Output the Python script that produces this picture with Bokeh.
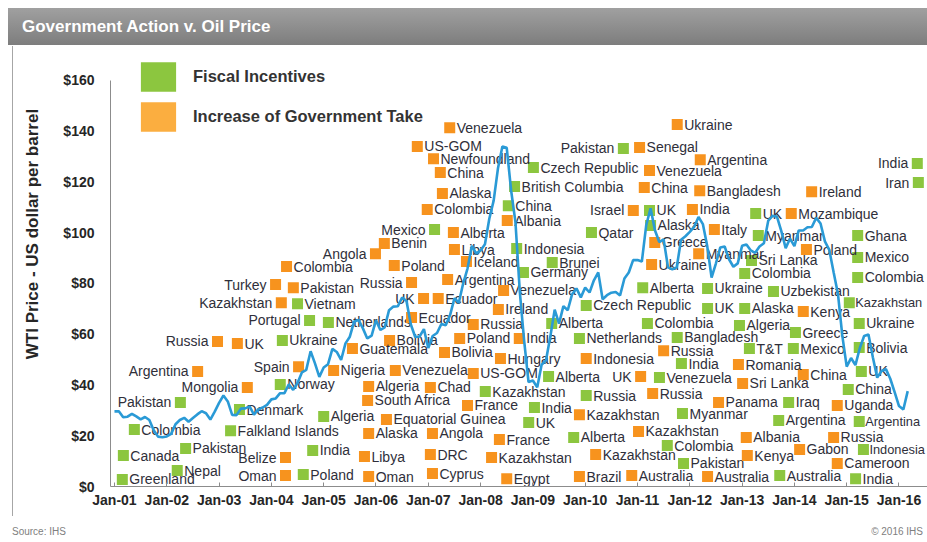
from bokeh.plotting import figure
from bokeh.models import (Div, FixedTicker, Legend, LegendItem, ColumnDataSource,
                          Range1d)
from bokeh.layouts import column
from bokeh.embed import file_html
from bokeh.resources import INLINE
from bokeh.core.properties import value

# ---------------- DATA ----------------
# WTI monthly average price (US$/bbl), Jan 2001 .. Mar 2016
wti_start_year = 2001
wti_price = [
    29.59, 29.61, 27.24, 27.49, 28.63, 27.60, 26.43, 27.37, 26.20, 22.17, 19.64, 19.39,
    19.72, 20.72, 24.53, 26.18, 27.04, 25.52, 26.97, 28.39, 29.66, 28.84, 26.35, 29.46,
    32.95, 35.83, 33.51, 28.17, 28.11, 30.66, 30.75, 31.57, 28.31, 30.34, 31.11, 32.13,
    34.31, 34.69, 36.74, 36.75, 40.28, 38.03, 40.78, 44.90, 45.94, 53.28, 48.47, 43.15,
    46.84, 48.15, 54.19, 52.98, 49.83, 56.35, 59.00, 64.99, 65.59, 62.26, 58.32, 59.41,
    65.49, 61.63, 62.69, 69.44, 70.84, 70.95, 74.41, 73.04, 63.80, 58.89, 59.08, 61.96,
    54.51, 59.28, 60.44, 63.98, 63.46, 67.49, 74.12, 72.36, 79.92, 85.80, 94.77, 91.69,
    92.97, 95.39, 105.45, 112.58, 125.40, 133.88, 133.37, 116.67, 104.11, 76.61, 57.31, 41.12,
    41.71, 39.09, 47.94, 49.65, 59.03, 69.64, 64.15, 71.05, 69.41, 75.72, 77.99, 74.47,
    78.33, 76.39, 81.20, 84.29, 73.74, 75.34, 76.32, 76.60, 75.24, 81.89, 84.25, 89.15,
    89.17, 88.58, 102.86, 109.53, 100.90, 96.26, 97.30, 86.33, 85.52, 86.32, 97.16, 98.56,
    100.27, 102.20, 106.16, 103.32, 94.66, 82.30, 87.90, 94.13, 94.51, 89.49, 86.53, 87.86,
    94.76, 95.31, 92.94, 92.02, 94.51, 95.77, 104.67, 106.57, 106.29, 100.54, 93.86, 97.63,
    94.62, 100.82, 100.80, 102.07, 102.18, 105.79, 103.59, 96.54, 93.21, 84.40, 75.79, 59.29,
    47.22, 50.58, 47.82, 54.45, 59.27, 59.82, 50.90, 42.87, 45.48, 46.22, 42.44, 37.19,
    31.68, 30.32, 37.55,
]

# Fiscal incentives: country, date (decimal year), price level
fi_country = [
    "Pakistan", "Colombia", "Canada", "Greenland", "Pakistan", "Nepal", "Denmark",
    "Falkland Islands", "Norway", "Poland", "India", "Algeria", "Vietnam", "Portugal",
    "Ukraine", "Mexico", "Indonesia", "Germany", "Netherlands", "Kazakhstan", "UK",
    "India", "India", "Alberta", "Venezuela", "Russia", "Myanmar", "Alberta",
    "Colombia", "Pakistan", "UK", "China", "Iraq", "Argentina", "Argentina",
    "Indonesia", "Australia", "India", "Myanmar", "Ghana", "Mexico", "Sri Lanka",
    "Colombia", "Colombia", "Uzbekistan", "Kazakhstan", "Alaska", "Ukraine", "Algeria",
    "Greece", "T&T", "Mexico", "Bolivia", "Qatar", "Brunei", "Alberta", "Ukraine",
    "Czech Republic", "UK", "Alberta", "Colombia", "Netherlands", "Bangladesh",
    "Pakistan", "Czech Republic", "British Columbia", "China", "UK", "Alaska",
    "India", "Iran", "UK",
]
fi_date = [
    2002.26, 2001.38, 2001.17, 2001.15, 2002.36, 2002.20, 2003.39,
    2003.22, 2004.17, 2004.61, 2004.79, 2005.00, 2004.50, 2004.73,
    2004.21, 2007.12, 2008.69, 2008.82, 2005.09, 2008.09, 2008.92,
    2009.03, 2011.84, 2009.30, 2011.42, 2010.02, 2011.86, 2009.78,
    2011.57, 2011.88, 2015.28, 2015.03, 2013.89, 2013.70, 2015.24,
    2015.32, 2013.72, 2015.17, 2013.31, 2015.21, 2015.21, 2013.18,
    2013.05, 2015.21, 2013.60, 2015.05, 2013.05, 2015.24, 2012.95,
    2014.02, 2013.14, 2013.98, 2015.24, 2010.12, 2009.37, 2011.10, 2012.34,
    2010.02, 2012.34, 2009.36, 2011.19, 2009.89, 2011.76,
    2010.73, 2009.01, 2008.65, 2008.53, 2011.23, 2011.25,
    2016.35, 2016.37, 2013.26,
]
fi_price = [
    33.1, 22.4, 12.2, 2.8, 15.0, 6.3, 30.3,
    22.0, 40.2, 4.7, 14.2, 27.6, 72.0, 65.4,
    57.5, 101.2, 93.7, 84.3, 64.6, 37.4, 25.2,
    31.1, 48.4, 43.3, 42.9, 35.8, 28.7, 19.3,
    16.1, 9.1, 45.3, 38.2, 33.1, 26.0, 25.6,
    14.6, 4.3, 3.1, 98.8, 98.8, 90.2, 89.0,
    83.9, 82.3, 76.8, 72.4, 70.1, 64.2, 63.4,
    60.6, 54.3, 54.3, 54.7, 100.0, 88.2, 78.3, 78.0,
    71.3, 70.1, 64.2, 64.2, 58.3, 58.7,
    133.1, 125.6, 118.1, 110.6, 108.7, 102.8,
    127.2, 119.7, 107.5,
]

# Increase of government take
gt_country = [
    "Argentina", "Mongolia", "Belize", "Oman", "Spain", "Colombia", "Turkey",
    "Pakistan", "Kazakhstan", "Russia", "UK", "Alberta", "Benin", "Angola", "Libya",
    "Poland", "Iceland", "Russia", "Argentina", "Venezuela", "UK", "Ecuador",
    "Ireland", "Ecuador", "Russia", "Bolivia", "Poland", "India", "Guatemala",
    "Bolivia", "Nigeria", "Venezuela", "Hungary", "US-GOM", "Algeria", "Chad",
    "South Africa", "France", "Equatorial Guinea", "Alaska", "Angola", "France",
    "Libya", "DRC", "Kazakhstan", "Oman", "Cyprus", "Egypt", "Indonesia", "UK",
    "Russia", "Kazakhstan", "Panama", "Kazakhstan", "Kazakhstan", "Brazil",
    "Australia", "Australia", "Romania", "Sri Lanka", "China", "Uganda", "Albania",
    "Russia", "Gabon", "Kenya", "Cameroon", "Poland", "Kenya", "Greece", "Myanmar",
    "Ukraine", "Russia", "Ukraine", "Senegal", "Argentina", "Venezuela", "China",
    "Bangladesh", "Albania", "Israel", "India", "Italy", "Ireland", "Mozambique",
    "Venezuela", "US-GOM", "Newfoundland", "China", "Alaska", "Colombia",
]
gt_date = [
    2002.59, 2003.54, 2004.27, 2004.27, 2004.52, 2004.29, 2004.08,
    2004.42, 2004.19, 2002.97, 2003.35, 2007.48, 2006.16, 2005.99, 2007.50,
    2006.35, 2007.73, 2006.68, 2007.37, 2008.44, 2006.91, 2007.19,
    2008.34, 2006.68, 2007.86, 2006.26, 2007.60, 2008.74, 2005.55,
    2007.31, 2005.19, 2006.37, 2008.38, 2007.86, 2005.86, 2007.04,
    2005.84, 2007.75, 2006.20, 2005.86, 2007.08, 2008.36,
    2005.78, 2007.04, 2008.21, 2005.86, 2007.08, 2008.50, 2010.02, 2011.06,
    2011.29, 2009.89, 2012.55, 2011.02, 2010.20, 2009.89,
    2010.89, 2012.34, 2012.93, 2013.01, 2014.17, 2014.82, 2013.08,
    2014.75, 2014.10, 2013.10, 2014.82, 2014.23, 2014.17, 2011.33, 2012.17,
    2011.27, 2011.50, 2011.76, 2011.04, 2012.20, 2011.23, 2011.13,
    2012.19, 2008.51, 2010.92, 2012.05, 2012.47, 2014.33, 2013.94,
    2007.41, 2006.79, 2007.10, 2007.23, 2007.27, 2006.98,
]
gt_price = [
    45.3, 39.0, 11.4, 4.3, 47.2, 86.6, 79.5,
    78.3, 72.4, 57.1, 56.3, 100.0, 95.7, 91.7, 93.3,
    87.0, 88.6, 80.3, 81.5, 77.2, 74.0, 74.0,
    69.7, 66.5, 63.8, 57.5, 58.3, 58.3, 54.3,
    52.8, 45.7, 45.7, 50.4, 44.5, 39.4, 39.0,
    33.9, 31.9, 26.4, 20.9, 20.9, 18.5,
    11.8, 12.6, 11.4, 3.9, 5.1, 3.1, 50.4, 43.3,
    36.6, 28.3, 33.1, 21.7, 12.6, 3.9,
    4.3, 3.9, 48.0, 40.6, 44.1, 31.9, 19.3,
    19.3, 14.6, 12.2, 9.1, 93.3, 68.9, 96.1, 91.7,
    87.4, 53.5, 142.5, 133.5, 128.7, 124.4, 117.7,
    116.5, 104.7, 108.7, 109.1, 101.2, 116.1, 107.5,
    141.3, 133.9, 129.1, 123.6, 115.4, 109.1,
]

tick_years = list(range(2001, 2017))
tick_labels = ["Jan-%02d" % (y % 100) for y in tick_years]
price_ticks = [0, 20, 40, 60, 80, 100, 120, 140, 160]
price_labels = ["$%d" % v for v in price_ticks]
y_title = "WTI Price - US dollar per barrel"

# ---------------- STYLE ----------------
# labels placed on the left of their marker (country, date)
LEFT_LABELS = {("Pakistan", 2002.26), ("Portugal", 2004.73), ("Mexico", 2007.12),
               ("Pakistan", 2010.73), ("India", 2016.35), ("Iran", 2016.37),
               ("Argentina", 2002.59), ("Mongolia", 2003.54), ("Belize", 2004.27),
               ("Oman", 2004.27), ("Spain", 2004.52), ("Turkey", 2004.08),
               ("Kazakhstan", 2004.19), ("Russia", 2002.97), ("Angola", 2005.99),
               ("Russia", 2006.68), ("UK", 2006.91), ("UK", 2011.06),
               ("Israel", 2010.92)}
# labels at the right edge, set a little tighter so they stay inside the picture
EDGE_LABELS = {("Indonesia", 2015.32), ("Kazakhstan", 2015.05), ("Argentina", 2015.24)}

FONT = "Liberation Sans"
GREEN = "#8CC63F"
ORANGE = "#F7931E"
LINE_BLUE = "#2A9AD6"
TEXT = "#2F2F3A"
NAN = float("nan")
# the reference's axis title sits above the axis centre: lead it with blank space
TITLE_LEAD = "\u00a0" * 15

p = figure(width=927, height=470, output_backend="svg", toolbar_location=None,
           x_range=Range1d(2000.924, 2016.545), y_range=Range1d(0, 170.9),
           min_border_left=110, min_border_right=0, min_border_top=6,
           min_border_bottom=30)
p.outline_line_color = None
p.grid.grid_line_color = None
p.background_fill_color = "white"
p.border_fill_color = None
p.styles = {"background": "linear-gradient(to right, #ffffff 12px, #a6a6a6 12px, "
                          "#a6a6a6 13px, #ffffff 13px)"}

# axes
p.xaxis.ticker = FixedTicker(ticks=tick_years)
p.xaxis.major_label_overrides = dict(zip(tick_years, tick_labels))
p.xaxis.major_label_text_font = FONT
p.xaxis.major_label_text_font_style = "bold"
p.xaxis.major_label_text_font_size = "14px"
p.xaxis.major_label_text_color = "#262626"
p.xaxis.axis_line_color = "#8C8C8C"
p.xaxis.major_tick_line_color = "#8C8C8C"
p.xaxis.major_tick_in = 4
p.xaxis.major_tick_out = 0
p.xaxis.minor_tick_line_color = None
p.xaxis.major_label_standoff = 5

p.yaxis.ticker = FixedTicker(ticks=price_ticks)
p.yaxis.major_label_overrides = dict(zip(price_ticks, price_labels))
p.yaxis.bounds = (0, 160)
p.yaxis.major_label_text_font = FONT
p.yaxis.major_label_text_font_style = "bold"
p.yaxis.major_label_text_font_size = "14px"
p.yaxis.major_label_text_color = "#262626"
p.yaxis.axis_line_color = "#8C8C8C"
p.yaxis.major_tick_line_color = None
p.yaxis.minor_tick_line_color = None
p.yaxis.major_label_standoff = 10
p.yaxis.axis_label = TITLE_LEAD + y_title
p.yaxis.axis_label_text_font = FONT
p.yaxis.axis_label_text_font_style = "bold"
p.yaxis.axis_label_text_font_size = "17px"
p.yaxis.axis_label_text_color = "#262626"
p.yaxis.axis_label_standoff = 18

# markers and labels
def sources(countries, dates, prices):
    groups = {k: dict(x=[], y=[], t=[]) for k in ("right", "left", "edge")}
    for c, d, v in zip(countries, dates, prices):
        k = "left" if (c, d) in LEFT_LABELS else ("edge" if (c, d) in EDGE_LABELS
                                                  else "right")
        groups[k]["x"].append(d); groups[k]["y"].append(v); groups[k]["t"].append(c)
    allsrc = ColumnDataSource(dict(x=list(dates), y=list(prices)))
    return allsrc, {k: ColumnDataSource(g) for k, g in groups.items()}

for cs, ds, ps, col in ((fi_country, fi_date, fi_price, GREEN),
                        (gt_country, gt_date, gt_price, ORANGE)):
    a, g = sources(cs, ds, ps)
    p.scatter("x", "y", source=a, marker="square", size=11, fill_color=col,
              line_color=None)
    p.text("x", "y", text="t", source=g["right"], x_offset=7, text_align="left",
           text_baseline="middle", text_font=value(FONT), text_font_size="14px",
           text_color=TEXT)
    p.text("x", "y", text="t", source=g["edge"], x_offset=6, text_align="left",
           text_baseline="middle", text_font=value(FONT), text_font_size="12.8px",
           text_color=TEXT)
    p.text("x", "y", text="t", source=g["left"], x_offset=-9, text_align="right",
           text_baseline="middle", text_font=value(FONT), text_font_size="14px",
           text_color=TEXT)

wti_x = [wti_start_year + i / 12.0 for i in range(len(wti_price))]
p.line(wti_x, wti_price, line_color=LINE_BLUE, line_width=2.6)

# legend (swatch-only renderers with no visible data)
rf = p.quad(left=[NAN], right=[NAN], top=[NAN], bottom=[NAN], fill_color=GREEN,
            line_color=None)
rg = p.quad(left=[NAN], right=[NAN], top=[NAN], bottom=[NAN], fill_color="#FBAE40",
            line_color=None)
legend = Legend(items=[LegendItem(label="Fiscal Incentives", renderers=[rf]),
                       LegendItem(label="Increase of Government Take", renderers=[rg])],
                location=(26, 351), glyph_width=44, glyph_height=37, spacing=3,
                label_standoff=13, label_height=37,
                label_text_font=FONT, label_text_font_style="bold",
                label_text_font_size="16.5px", label_text_color="#333333",
                border_line_color=None, background_fill_alpha=0, padding=0, margin=0)
p.add_layout(legend)

header = Div(text=(
    '<div style="margin:8px 0 0 8px;width:919px;height:37px;box-sizing:border-box;'
    'background:linear-gradient(#a0a0a0,#7d7d7d);color:#ffffff;'
    "font-family:'Liberation Sans',Arial,sans-serif;font-weight:bold;font-size:17px;"
    'line-height:37px;padding-left:14px;">Government Action v. Oil Price</div>'),
    width=927, height=46, margin=(0, 0, 0, 0))

footer = Div(text=(
    '<div style="position:relative;width:927px;height:26px;'
    "font-family:'Liberation Sans',Arial,sans-serif;font-size:10px;color:#808080;\">"
    '<span style="position:absolute;left:12px;top:9px;">Source: IHS</span>'
    '<span style="position:absolute;right:4px;top:9px;">&copy; 2016 IHS</span></div>'),
    width=927, height=26, margin=(0, 0, 0, 0))

layout = column(header, p, footer, spacing=0)
open("out.html", "w").write(file_html(layout, INLINE))
